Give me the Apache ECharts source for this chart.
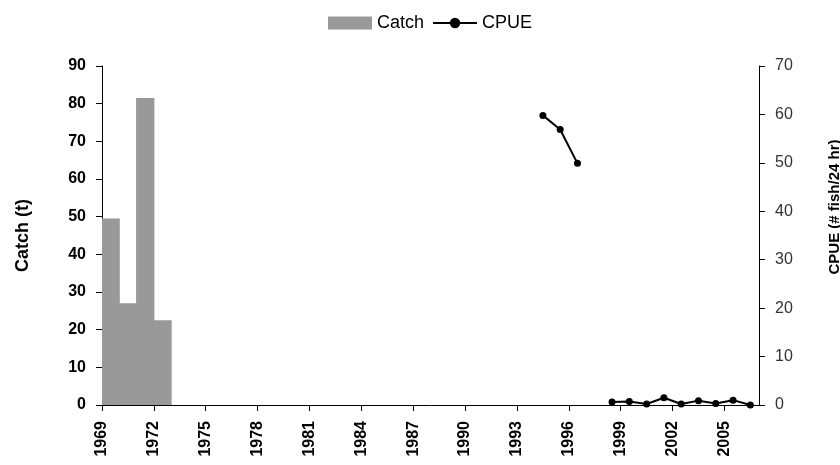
<!DOCTYPE html>
<html>
<head>
<meta charset="utf-8">
<script src="https://cdn.jsdelivr.net/npm/echarts@6/dist/echarts.min.js"></script>
<style>
  html, body { margin: 0; padding: 0; background: #fff; }
  #chart { width: 840px; height: 465px; }
</style>
</head>
<body>
<div id="chart"></div>
<script>
// one category per year, bars and points sit in the middle of each year
const years = [
  '1969', '1970', '1971', '1972', '1973', '1974', '1975', '1976', '1977', '1978',
  '1979', '1980', '1981', '1982', '1983', '1984', '1985', '1986', '1987', '1988',
  '1989', '1990', '1991', '1992', '1993', '1994', '1995', '1996', '1997', '1998',
  '1999', '2000', '2001', '2002', '2003', '2004', '2005', '2006',
]

// year boundaries, used only for the tick labels (ticks sit between years)
const tickYears = [
  '1969', '1970', '1971', '1972', '1973', '1974', '1975', '1976', '1977', '1978',
  '1979', '1980', '1981', '1982', '1983', '1984', '1985', '1986', '1987', '1988',
  '1989', '1990', '1991', '1992', '1993', '1994', '1995', '1996', '1997', '1998',
  '1999', '2000', '2001', '2002', '2003', '2004', '2005', '2006', '2007',
]

const catchValues = [
  49.5, 27, 81.5, 22.5, null, null, null, null, null, null,
  null, null, null, null, null, null, null, null, null, null,
  null, null, null, null, null, null, null, null, null, null,
  null, null, null, null, null, null, null, null,
]

const cpueValues = [
  null, null, null, null, null, null, null, null, null, null,
  null, null, null, null, null, null, null, null, null, null,
  null, null, null, null, null, 59.8, 56.9, 49.9, null, 0.6,
  0.7, 0.2, 1.5, 0.2, 0.9, 0.3, 1.0, 0,
]

const fontFamily = '"Liberation Sans", Arial, sans-serif'

const chart = echarts.init(document.getElementById('chart'), null, { renderer: 'canvas' })

chart.setOption({
  animation: false,
  textStyle: { fontFamily },
  legend: {
    left: 323,
    top: 9,
    itemWidth: 44,
    itemHeight: 13,
    itemGap: 8,
    textStyle: { fontSize: 18, color: '#000', fontFamily },
    data: [
      { name: 'Catch', icon: 'rect' },
      { name: 'CPUE', itemStyle: { color: '#000' } },
    ],
  },
  grid: { left: 102, right: 81, top: 66, bottom: 60 },
  xAxis: [
    {
      type: 'category',
      data: years,
      position: 'bottom',
      show: false,
    },
    {
      type: 'category',
      data: tickYears,
      position: 'bottom',
      boundaryGap: false,
      axisLine: { show: true, lineStyle: { color: '#000', width: 1 } },
      axisTick: { show: true, interval: 2, length: 6, lineStyle: { color: '#000' } },
      axisLabel: {
        interval: 2,
        rotate: 90,
        margin: 16,
        fontSize: 16,
        fontWeight: 'bold',
        color: '#000',
        fontFamily,
      },
      splitLine: { show: false },
    },
  ],
  yAxis: [
    {
      type: 'value',
      position: 'left',
      min: 0,
      max: 90,
      interval: 10,
      name: 'Catch (t)',
      nameLocation: 'middle',
      nameRotate: 90,
      nameGap: 70,
      nameTextStyle: { fontSize: 18, fontWeight: 'bold', color: '#000', fontFamily },
      axisLine: { show: true, lineStyle: { color: '#000', width: 1 } },
      axisTick: { show: true, length: 6, lineStyle: { color: '#000' } },
      axisLabel: { margin: 16, fontSize: 16, fontWeight: 'bold', color: '#000', fontFamily },
      splitLine: { show: false },
    },
    {
      type: 'value',
      position: 'right',
      min: 0,
      max: 70,
      interval: 10,
      axisLine: { show: true, lineStyle: { color: '#000', width: 1 } },
      axisTick: { show: true, length: 6, lineStyle: { color: '#000' } },
      axisLabel: { margin: 16, fontSize: 16, color: '#333', fontFamily },
      splitLine: { show: false },
    },
  ],
  graphic: [
    {
      type: 'text',
      x: 835,
      y: 207,
      rotation: Math.PI / 2,
      style: {
        text: 'CPUE (# fish/24 hr)',
        font: 'bold 15px ' + fontFamily,
        fill: '#000',
        align: 'center',
        verticalAlign: 'middle',
      },
    },
  ],
  series: [
    {
      name: 'Catch',
      type: 'bar',
      xAxisIndex: 0,
      yAxisIndex: 0,
      data: catchValues,
      barWidth: '106%',
      itemStyle: { color: '#999999' },
    },
    {
      name: 'CPUE',
      type: 'line',
      xAxisIndex: 0,
      yAxisIndex: 1,
      data: cpueValues,
      connectNulls: false,
      symbol: 'circle',
      symbolSize: 7,
      lineStyle: { color: '#000', width: 2 },
      itemStyle: { color: '#000' },
    },
  ],
})
</script>
</body>
</html>
